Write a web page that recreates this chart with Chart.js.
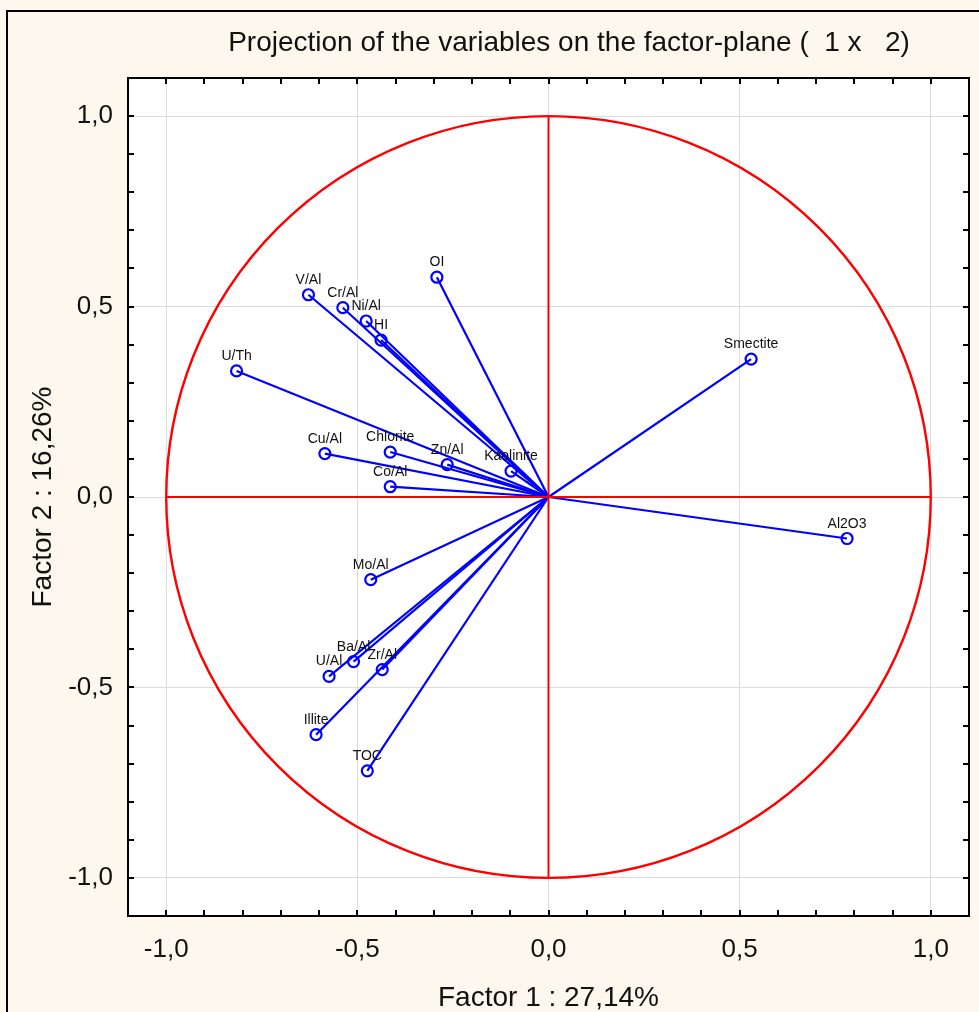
<!DOCTYPE html>
<html>
<head>
<meta charset="utf-8">
<script src="https://cdn.jsdelivr.net/npm/chart.js@4/dist/chart.umd.min.js"></script>
<style>
  html, body { margin: 0; padding: 0; background: #fdf8ed; }
  canvas { display: block; }
</style>
</head>
<body>
<canvas id="chart" width="979" height="1012"></canvas>
<script>
// variable coordinates on factor 1 / factor 2
const variables = ['OI', 'V/Al', 'Cr/Al', 'Ni/Al', 'HI', 'U/Th', 'Cu/Al', 'Chlorite', 'Zn/Al', 'Co/Al',
                   'Kaolinite', 'Smectite', 'Al2O3', 'Mo/Al', 'Ba/Al', 'U/Al', 'Zr/Al', 'Illite', 'TOC'];
const factor1 = [-0.292, -0.628, -0.538, -0.477, -0.438, -0.816, -0.585, -0.414, -0.265, -0.414,
                 -0.098, 0.530, 0.781, -0.465, -0.510, -0.574, -0.435, -0.608, -0.474];
const factor2 = [0.577, 0.531, 0.497, 0.462, 0.412, 0.331, 0.114, 0.118, 0.085, 0.027,
                 0.068, 0.362, -0.109, -0.217, -0.432, -0.471, -0.453, -0.624, -0.719];
const tickValues = [-1.0, -0.5, 0.0, 0.5, 1.0];

const chartTitle = 'Projection of the variables on the factor-plane (  1 x   2)';
const xTitle = 'Factor 1 : 27,14%';
const yTitle = 'Factor 2 : 16,26%';

const family = '"Liberation Sans", Arial, sans-serif';
const blue = '#0000ff';
const red = '#ff0000';

const fmt = v => v.toFixed(1).replace('.', ',');

// one little line per variable, from the origin to the point
const vectorSets = variables.map((name, i) => ({
    label: name,
    data: [{x: 0, y: 0}, {x: factor1[i], y: factor2[i]}],
    showLine: true,
    borderColor: blue,
    borderWidth: 2.2,
    pointRadius: 0,
    pointHoverRadius: 0
}));

const pointSet = {
    label: 'variables',
    data: variables.map((name, i) => ({x: factor1[i], y: factor2[i]})),
    showLine: false,
    pointStyle: 'circle',
    pointRadius: 5.5,
    pointBorderWidth: 2.2,
    pointBorderColor: blue,
    pointBackgroundColor: 'rgba(0,0,0,0)'
};

const decor = {
    id: 'decor',
    beforeDraw(chart) {
        const {ctx, chartArea: a} = chart;
        ctx.save();
        ctx.fillStyle = '#fdf8ed';
        ctx.fillRect(0, 0, chart.width, chart.height);
        // outer frame
        ctx.strokeStyle = '#000';
        ctx.lineWidth = 2;
        ctx.beginPath();
        ctx.moveTo(7, chart.height);
        ctx.lineTo(7, 11);
        ctx.lineTo(chart.width, 11);
        ctx.stroke();
        ctx.fillStyle = '#fff';
        ctx.fillRect(a.left, a.top, a.right - a.left, a.bottom - a.top);
        // title
        ctx.fillStyle = '#111';
        ctx.font = '28px ' + family;
        ctx.textAlign = 'center';
        ctx.textBaseline = 'alphabetic';
        ctx.fillText(chartTitle, 569, 51);
        ctx.restore();
    },
    afterDatasetsDraw(chart) {
        const {ctx, chartArea: a} = chart;
        const xs = chart.scales.x, ys = chart.scales.y;
        const cx = xs.getPixelForValue(0), cy = ys.getPixelForValue(0);
        const rx = xs.getPixelForValue(1) - cx, ry = cy - ys.getPixelForValue(1);
        ctx.save();
        // unit circle and the red cross
        ctx.strokeStyle = red;
        ctx.lineWidth = 2.4;
        ctx.beginPath();
        ctx.ellipse(cx, cy, rx, ry, 0, 0, Math.PI * 2);
        ctx.stroke();
        ctx.lineWidth = 2;
        ctx.beginPath();
        ctx.moveTo(cx - rx, cy); ctx.lineTo(cx + rx, cy);
        ctx.moveTo(cx, cy - ry); ctx.lineTo(cx, cy + ry);
        ctx.stroke();

        // point labels
        ctx.fillStyle = '#111';
        ctx.font = '14px ' + family;
        ctx.textAlign = 'center';
        ctx.textBaseline = 'alphabetic';
        variables.forEach((name, i) => {
            const px = xs.getPixelForValue(factor1[i]);
            const py = ys.getPixelForValue(factor2[i]);
            ctx.fillText(name, px, py - 11);
        });

        // frame on top/right and inner tick marks every 0.1
        ctx.strokeStyle = '#000';
        ctx.lineWidth = 2;
        ctx.strokeRect(a.left, a.top, a.right - a.left, a.bottom - a.top);
        ctx.beginPath();
        for (let k = -10; k <= 10; k++) {
            const v = k / 10;
            const x = Math.round(xs.getPixelForValue(v));
            const y = Math.round(ys.getPixelForValue(v));
            ctx.moveTo(x, a.top); ctx.lineTo(x, a.top + 6);
            ctx.moveTo(x, a.bottom); ctx.lineTo(x, a.bottom - 6);
            ctx.moveTo(a.left, y); ctx.lineTo(a.left + 6, y);
            ctx.moveTo(a.right, y); ctx.lineTo(a.right - 6, y);
        }
        ctx.stroke();
        ctx.restore();
    }
};

function axisOptions(titleText, isX) {
    return {
        type: 'linear',
        min: -1.1,
        max: 1.1,
        afterBuildTicks: s => { s.ticks = tickValues.map(v => ({value: v})); },
        afterFit: s => {
            if (isX) s.height = 96; else s.width = 128;
        },
        ticks: {
            callback: v => fmt(v),
            font: {family: family, size: 26},
            color: '#111',
            padding: isX ? 18 : 15,
            maxRotation: 0,
            autoSkip: false
        },
        grid: {color: '#dcdcdc', lineWidth: 1, drawTicks: false},
        border: {color: '#000', width: 2},
        title: {
            display: true,
            text: titleText,
            font: {family: family, size: 28},
            color: '#111',
            padding: isX ? {top: 0, bottom: -3} : {top: 26, bottom: 0}
        }
    };
}

const ctx = document.getElementById('chart').getContext('2d');
const myChart = new Chart(ctx, {
    type: 'scatter',
    data: { datasets: [...vectorSets, pointSet] },
    options: {
        responsive: false,
        animation: false,
        events: [],
        layout: { padding: {top: 78, right: 10, bottom: 0, left: 0} },
        scales: {
            x: axisOptions(xTitle, true),
            y: axisOptions(yTitle, false)
        },
        plugins: {
            legend: {display: false},
            tooltip: {enabled: false},
            title: {display: false}
        }
    },
    plugins: [decor]
});
</script>
</body>
</html>
